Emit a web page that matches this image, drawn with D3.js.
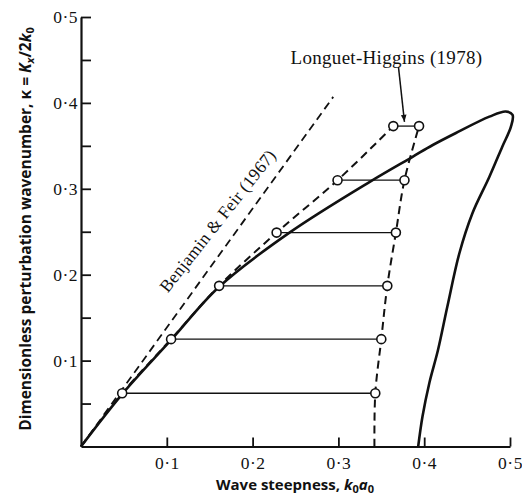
<!DOCTYPE html>
<html>
<head>
<meta charset="utf-8">
<script src="https://cdn.jsdelivr.net/npm/d3@7"></script>
<style>
  body { margin: 0; background: #fff; }
  .tick text { font-family: "Liberation Serif", serif; font-size: 17.5px; letter-spacing: 0.5px; fill: #111; }
</style>
</head>
<body>
<div id="chart"></div>
<script>
//Width and height
var w = 522;
var h = 501;

//Outer stability boundary (solid curve)
var boundaryX = [0, 0.048, 0.105, 0.161, 0.243, 0.338, 0.386, 0.410, 0.437, 0.476, 0.495, 0.503, 0.501, 0.491, 0.476, 0.456, 0.441, 0.427, 0.416, 0.406, 0.398, 0.393];
var boundaryY = [0, 0.061, 0.124, 0.186, 0.249, 0.309, 0.337, 0.351, 0.365, 0.384, 0.390, 0.386, 0.372, 0.349, 0.314, 0.271, 0.225, 0.163, 0.112, 0.074, 0.035, 0];

//Longuet-Higgins (1978): perturbation wavenumber levels, left and right ends
var levelK = [0.062, 0.125, 0.187, 0.249, 0.310, 0.373];
var leftSteep = [0.048, 0.105, 0.161, 0.228, 0.299, 0.364];
var rightSteep = [0.343, 0.350, 0.357, 0.367, 0.377, 0.394];
//where the two dashed curves start on the axis
var leftBase = 0;
var rightBase = 0.342;

//Benjamin & Feir (1967) straight line
var bfX = [0, 0.294];
var bfY = [0, 0.407];

//Ticks
var xTicks = [0.1, 0.2, 0.3, 0.4, 0.5];
var yTicks = [0.1, 0.2, 0.3, 0.4, 0.5];
var yMinor = [0.05, 0.15, 0.25, 0.35, 0.45];

var x = d3.scaleLinear().domain([0, 0.5]).range([81, 510]);
var y = d3.scaleLinear().domain([0, 0.5]).range([446.5, 17]);

var svg = d3.select("#chart")
    .append("svg")
    .attr("width", w)
    .attr("height", h);

var fmt = function(d) { return d3.format(".1f")(d).replace(".", "\u00b7"); };

//Axes, ticks pointing inwards
var xAxis = svg.append("g")
    .attr("transform", "translate(0," + y(0) + ")")
    .call(d3.axisBottom(x).tickValues(xTicks).tickSizeInner(-9).tickSizeOuter(0).tickPadding(10).tickFormat(fmt));

var yAxis = svg.append("g")
    .attr("transform", "translate(" + x(0) + ",0)")
    .call(d3.axisLeft(y).tickValues(yTicks).tickSizeInner(-10).tickSizeOuter(0).tickPadding(3).tickFormat(fmt));

var yMinorAxis = svg.append("g")
    .attr("transform", "translate(" + x(0) + ",0)")
    .call(d3.axisLeft(y).tickValues(yMinor).tickSizeInner(-10).tickSizeOuter(0).tickFormat(""));
yMinorAxis.select(".domain").remove();

svg.selectAll(".domain").attr("stroke", "#111").attr("stroke-width", 2.2);
svg.selectAll(".tick line").attr("stroke", "#111").attr("stroke-width", 1.8);
yAxis.selectAll(".tick text").attr("dy", "0.34em");

var line = d3.line()
    .x(function(d) { return x(d[0]); })
    .y(function(d) { return y(d[1]); });

//Benjamin & Feir line
svg.append("path")
    .datum(bfX.map(function(v, i) { return [v, bfY[i]]; }))
    .attr("d", line)
    .attr("fill", "none")
    .attr("stroke", "#111")
    .attr("stroke-width", 1.8)
    .attr("stroke-dasharray", "8,5");

//Solid boundary
svg.append("path")
    .datum(boundaryX.map(function(v, i) { return [v, boundaryY[i]]; }))
    .attr("d", line.curve(d3.curveCatmullRom.alpha(0.5)))
    .attr("fill", "none")
    .attr("stroke", "#111")
    .attr("stroke-width", 2.6)
    .attr("stroke-linejoin", "round");

//Horizontal connectors
svg.selectAll(".level")
    .data(levelK)
    .enter()
    .append("line")
    .attr("class", "level")
    .attr("x1", function(d, i) { return x(leftSteep[i]); })
    .attr("x2", function(d, i) { return x(rightSteep[i]); })
    .attr("y1", function(d) { return y(d); })
    .attr("y2", function(d) { return y(d); })
    .attr("stroke", "#111")
    .attr("stroke-width", 1.3);

//Dashed Longuet-Higgins curves
var leftPts = [[leftBase, 0]].concat(leftSteep.map(function(v, i) { return [v, levelK[i]]; }));
var rightPts = [[rightBase, 0]].concat(rightSteep.map(function(v, i) { return [v, levelK[i]]; }));

[leftPts, rightPts].forEach(function(pts) {
    svg.append("path")
        .datum(pts)
        .attr("d", line.curve(d3.curveCatmullRom.alpha(0.5)))
        .attr("fill", "none")
        .attr("stroke", "#111")
        .attr("stroke-width", 2)
        .attr("stroke-dasharray", "8,5");
});

//Circles
svg.selectAll(".pt")
    .data(leftPts.slice(1).concat(rightPts.slice(1)))
    .enter()
    .append("circle")
    .attr("class", "pt")
    .attr("cx", function(d) { return x(d[0]); })
    .attr("cy", function(d) { return y(d[1]); })
    .attr("r", 4.5)
    .attr("fill", "#fff")
    .attr("stroke", "#111")
    .attr("stroke-width", 1.6);

//Arrow for the Longuet-Higgins label
svg.append("defs").append("marker")
    .attr("id", "head")
    .attr("viewBox", "0 0 10 10")
    .attr("refX", 10).attr("refY", 5)
    .attr("markerWidth", 9).attr("markerHeight", 7)
    .attr("markerUnits", "userSpaceOnUse")
    .attr("orient", "auto")
    .append("path")
    .attr("d", "M0,1L10,5L0,9Z")
    .attr("fill", "#111");

svg.append("line")
    .attr("x1", x(0.370)).attr("y1", y(0.442))
    .attr("x2", x(0.377)).attr("y2", y(0.378))
    .attr("stroke", "#111")
    .attr("stroke-width", 1.5)
    .attr("marker-end", "url(#head)");

svg.append("text")
    .attr("x", x(0.356))
    .attr("y", y(0.445))
    .attr("text-anchor", "middle")
    .style("font-family", "Liberation Serif, serif")
    .style("font-size", "19px")
    .style("letter-spacing", "0.3px")
    .style("fill", "#111")
    .text("Longuet-Higgins (1978)");

//Benjamin & Feir label, along its line
var ang = Math.atan2(y(bfY[1]) - y(0), x(bfX[1]) - x(0)) * 180 / Math.PI;
svg.append("text")
    .attr("transform", "translate(" + x(0.101) + "," + y(0.178) + ") rotate(" + (ang + 2.5) + ")")
    .style("font-family", "Liberation Serif, serif")
    .style("font-size", "17.5px")
    .style("letter-spacing", "0.3px")
    .style("fill", "#111")
    .text("Benjamin & Feir (1967)");

//Axis titles
var xt = svg.append("text")
    .attr("x", 295)
    .attr("y", 490)
    .attr("text-anchor", "middle")
    .style("font-family", "Open Sans, sans-serif")
    .style("font-weight", "bold")
    .style("font-size", "15px")
    .style("fill", "#111");
xt.append("tspan").text("Wave steepness, ");
xt.append("tspan").style("font-style", "italic").text("k");
xt.append("tspan").attr("dy", 3).style("font-size", "11px").text("0");
xt.append("tspan").attr("dy", -3).style("font-style", "italic").text("a");
xt.append("tspan").attr("dy", 3).style("font-size", "11px").text("0");

var yt = svg.append("text")
    .attr("transform", "translate(31,229) rotate(-90)")
    .attr("text-anchor", "middle")
    .style("font-family", "Open Sans, sans-serif")
    .style("font-weight", "bold")
    .style("font-size", "15.5px")
    .style("fill", "#111");
yt.append("tspan").text("Dimensionless perturbation wavenumber, \u03ba = ");
yt.append("tspan").style("font-style", "italic").text("K");
yt.append("tspan").attr("dy", 3).style("font-size", "11px").style("font-style", "italic").text("x");
yt.append("tspan").attr("dy", -3).text("/2");
yt.append("tspan").style("font-style", "italic").text("k");
yt.append("tspan").attr("dy", 3).style("font-size", "11px").text("0");
</script>
</body>
</html>
